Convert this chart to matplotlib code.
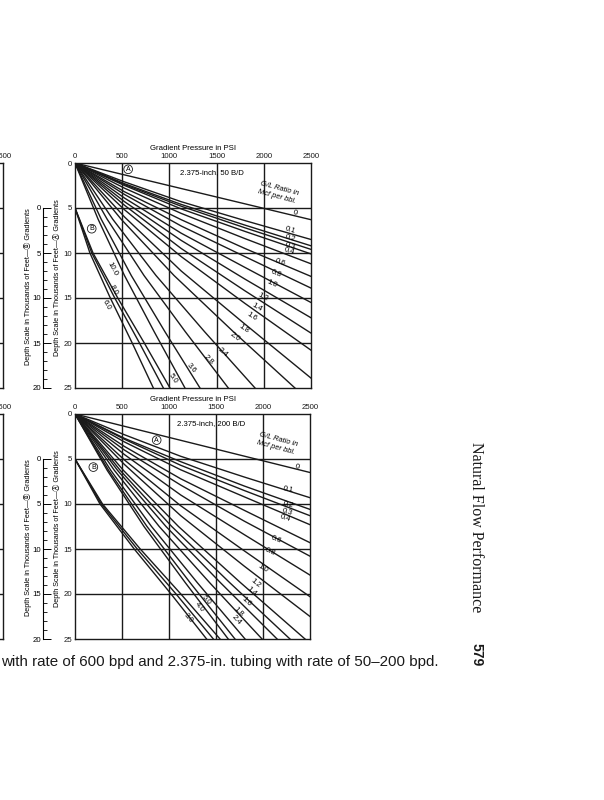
import matplotlib.pyplot as plt
from matplotlib.ticker import FixedLocator

plt.rcParams['font.family'] = ['Liberation Sans', 'DejaVu Sans', 'Noto Sans CJK JP']

W, H = 604, 800
ink = '#1a1a1a'

pressure_ticks = [0, 500, 1000, 1500, 2000, 2500]
depth_ticks = [0, 5, 10, 15, 20, 25]
b_ticks = [0, 5, 10, 15, 20]

# ---- 2.375-inch, 50 B/D : (pressure psi, depth 1000 ft)
top_a_curves = [
    [(0, 0), (2500, 6.3)],
    [(0, 0), (525, 2.1), (1125, 4.3), (1800, 6.4), (2500, 8.5)],
    [(0, 0), (525, 2.3), (1125, 4.6), (1800, 6.9), (2500, 9.2)],
    [(0, 0), (525, 2.4), (1125, 4.8), (1800, 7.2), (2500, 9.6)],
    [(0, 0), (525, 2.5), (1125, 5.1), (1800, 7.6), (2500, 10.1)],
    [(0, 0), (525, 2.8), (1125, 5.6), (1800, 8.4), (2500, 11.2)],
    [(0, 0), (525, 3.2), (1125, 6.3), (1800, 9.5), (2500, 12.6)],
    [(0, 0), (525, 3.5), (1125, 7.0), (1800, 10.4), (2500, 13.9)],
    [(0, 0), (525, 3.9), (1125, 7.8), (1800, 11.6), (2500, 15.5)],
    [(0, 0), (525, 4.3), (1125, 8.6), (1800, 12.9), (2500, 17.2)],
    [(0, 0), (525, 4.7), (1125, 9.5), (1800, 14.2), (2500, 18.9)],
    [(0, 0), (525, 5.2), (1125, 10.4), (1800, 15.6), (2500, 20.8)],
    [(0, 0), (525, 6.0), (1125, 12.0), (1800, 17.9), (2500, 23.9)],
    [(0, 0), (489, 6.25), (1049, 12.5), (1678, 18.75), (2330, 25)],
    [(0, 0), (400, 6.25), (858, 12.5), (1373, 18.75), (1907, 25)],
    [(0, 0), (341, 6.25), (731, 12.5), (1169, 18.75), (1624, 25)],
    [(0, 0), (278, 6.25), (596, 12.5), (953, 18.75), (1324, 25)],
    [(0, 0), (245, 6.25), (524, 12.5), (839, 18.75), (1165, 25)],
]
top_b_curves = [
    [(0, 5), (191, 10), (453, 15), (734, 20), (1006, 25)],
    [(0, 5), (178, 10), (421, 15), (683, 20), (936, 25)],
    [(0, 5), (158, 10), (374, 15), (606, 20), (830, 25)],
]
top_labels = ["0", "0.1", "0.2", "0.3", "0.4", "0.6", "0.8", "1.0", "1.2", "1.4",
              "1.6", "1.8", "2.0", "2.4", "2.8", "3.6", "5.0", "10.0", "8.0", "6.0"]
top_label_p = [2330, 2277, 2277, 2277, 2270, 2172, 2136, 2083, 1995, 1925,
               1871, 1783, 1695, 1568, 1409, 1236, 1038, 389, 403, 336]
top_label_d = [5.6, 7.5, 8.4, 9.2, 9.85, 11.1, 12.3, 13.4, 14.9, 16.0,
               17.1, 18.4, 19.3, 21.1, 21.9, 22.8, 23.9, 11.8, 14.1, 15.8]
top_label_rot = [-14, -18, -18, -18, -18, -20, -22, -24, -27, -30,
                 -32, -34, -36, -42, -46, -50, -56, -62, -62, -62]

# ---- 2.375-inch, 200 B/D
bot_a_curves = [
    [(0, 0), (2500, 6.5)],
    [(0, 0), (525, 2.3), (1125, 4.7), (1800, 7.0), (2500, 9.3)],
    [(0, 0), (525, 2.7), (1125, 5.3), (1800, 8.0), (2500, 10.6)],
    [(0, 0), (525, 2.8), (1125, 5.7), (1800, 8.5), (2500, 11.3)],
    [(0, 0), (525, 3.1), (1125, 6.2), (1800, 9.2), (2500, 12.3)],
    [(0, 0), (525, 3.6), (1125, 7.2), (1800, 10.7), (2500, 14.3)],
    [(0, 0), (525, 4.0), (1125, 7.9), (1800, 11.9), (2500, 15.8)],
    [(0, 0), (525, 4.5), (1125, 9.0), (1800, 13.4), (2500, 17.9)],
    [(0, 0), (525, 5.1), (1125, 10.2), (1800, 15.2), (2500, 20.3)],
    [(0, 0), (525, 5.6), (1125, 11.3), (1800, 16.9), (2500, 22.5)],
    [(0, 0), (514, 6.25), (1101, 12.5), (1762, 18.75), (2447, 25)],
    [(0, 0), (480, 6.25), (1029, 12.5), (1647, 18.75), (2287, 25)],
    [(0, 0), (452, 6.25), (968, 12.5), (1548, 18.75), (2150, 25)],
    [(0, 0), (418, 6.25), (896, 12.5), (1433, 18.75), (1990, 25)],
    [(0, 0), (380, 6.25), (814, 12.5), (1302, 18.75), (1809, 25)],
    [(0, 0), (357, 6.25), (766, 12.5), (1225, 18.75), (1702, 25)],
    [(0, 0), (342, 6.25), (734, 12.5), (1174, 18.75), (1630, 25)],
]
bot_b_curves = [
    [(0, 5), (293, 10), (694, 15), (1126, 20), (1543, 25)],
    [(0, 5), (280, 10), (662, 15), (1075, 20), (1472, 25)],
    [(0, 5), (266, 10), (630, 15), (1022, 20), (1400, 25)],
]
bot_labels = ["0", "0.1", "0.2", "0.3", "0.4", "0.6", "0.8", "1.0", "1.2", "1.4",
              "1.6", "1.8", "2.4", "5.0", "4.0", "3.0"]
bot_label_p = [2359, 2266, 2266, 2255, 2234, 2146, 2074, 2000, 1915, 1880,
               1827, 1737, 1720, 1394, 1323, 1206]
bot_label_d = [5.86, 8.44, 10.1, 10.86, 11.6, 14.0, 15.3, 17.1, 18.8, 19.7,
               20.9, 22.0, 22.9, 20.7, 21.5, 22.7]
bot_label_rot = [-14, -12, -15, -17, -18, -22, -24, -30, -40, -42,
                 -44, -46, -48, -50, -50, -50]


def px_box(x0, y0, x1, y1):
    return [x0 / W, 1 - y1 / H, (x1 - x0) / W, (y1 - y0) / H]


def base_axes(box):
    ax = fig.add_axes(box)
    ax.set_xlim(0, 2500)
    ax.set_ylim(25, 0)
    ax.xaxis.tick_top()
    ax.xaxis.set_label_position('top')
    ax.set_xticks(pressure_ticks)
    ax.set_yticks(depth_ticks)
    ax.tick_params(length=0, labelsize=5.6, pad=2, colors=ink)
    for v in pressure_ticks[1:-1]:
        ax.axvline(v, color=ink, lw=1.0)
    for v in depth_ticks[1:-1]:
        ax.axhline(v, color=ink, lw=1.0)
    for s in ax.spines.values():
        s.set_linewidth(1.0)
        s.set_color(ink)
    return ax


def chart(box, title, a_curves, b_curves, labels, lp, ld, lrot, a_pos, b_pos):
    ax = base_axes(box)
    ax.set_xlabel('Gradient Pressure in PSI', fontsize=5.6, labelpad=2)
    for c in a_curves + b_curves:
        p, d = zip(*c)
        ax.plot(p, d, color=ink, lw=1.0)
    for t, p, d, r in zip(labels, lp, ld, lrot):
        ax.text(p, d, t, fontsize=5.6, rotation=r, ha='center', va='center',
                rotation_mode='anchor')
    circ = dict(boxstyle='circle,pad=0.12', fc='white', ec=ink, lw=0.6)
    ax.text(a_pos[0], a_pos[1], 'A', fontsize=5, ha='center', va='center', bbox=circ)
    ax.text(b_pos[0], b_pos[1], 'B', fontsize=5, ha='center', va='center', bbox=circ)
    ax.text(1450, 1.1, title, fontsize=5.6, ha='center', va='center')
    ax.text(2150, 3.3, 'G/L Ratio in\nMcf per bbl.', fontsize=5.4, style='italic',
            ha='center', va='center', rotation=-15, linespacing=1.1)

    sec = ax.secondary_yaxis(-0.1356, functions=(lambda d: d - 5, lambda b: b + 5))
    sec.yaxis.set_major_locator(FixedLocator(b_ticks))
    sec.yaxis.set_minor_locator(FixedLocator(list(range(0, 21))))
    sec.spines['left'].set_bounds(0, 20)
    sec.spines['left'].set_linewidth(0.8)
    sec.tick_params(which='major', direction='in', length=5.5, width=0.7,
                    labelsize=5.6, pad=1.5)
    sec.tick_params(which='minor', direction='in', length=3, width=0.6)

    ax.text(-0.076, 0.49, 'Depth Scale in Thousands of Feet\u2014\u24b6 Gradients',
            transform=ax.transAxes, rotation=90, fontsize=5.2, ha='center', va='center')
    ax.text(-0.199, 0.45, 'Depth Scale in Thousands of Feet\u2014\u24b7 Gradients',
            transform=ax.transAxes, rotation=90, fontsize=5.2, ha='center', va='center')
    return ax


def partial(box):
    ax = base_axes(box)
    ax.set_xticks([2500])
    ax.set_yticks([])
    return ax


fig = plt.figure(figsize=(W / 100, H / 100), dpi=100)

partial(px_box(3 - 236, 163, 3, 388))
partial(px_box(3 - 236, 414, 3, 639))

chart(px_box(75, 163, 311, 388), '2.375-inch, 50 B/D', top_a_curves, top_b_curves,
      top_labels, top_label_p, top_label_d, top_label_rot, (563, 0.7), (177, 7.3))
chart(px_box(75, 414, 310, 639), '2.375-inch, 200 B/D', bot_a_curves, bot_b_curves,
      bot_labels, bot_label_p, bot_label_d, bot_label_rot, (869, 2.9), (195, 5.9))

fig.text(1 / W, 1 - 662 / H,
         'with rate of 600 bpd and 2.375-in. tubing with rate of 50\u2013200 bpd.',
         fontsize=10.9, ha='left', va='center', color=ink)
fig.text(476 / W, 1 - 527 / H, 'Natural Flow Performance', family='Liberation Serif',
         fontsize=11.5, rotation=-90, ha='center', va='center', color=ink)
fig.text(477 / W, 1 - 655 / H, '579', fontsize=10, weight='bold',
         rotation=-90, ha='center', va='center', color=ink)

fig.savefig('out.png', dpi=100)
